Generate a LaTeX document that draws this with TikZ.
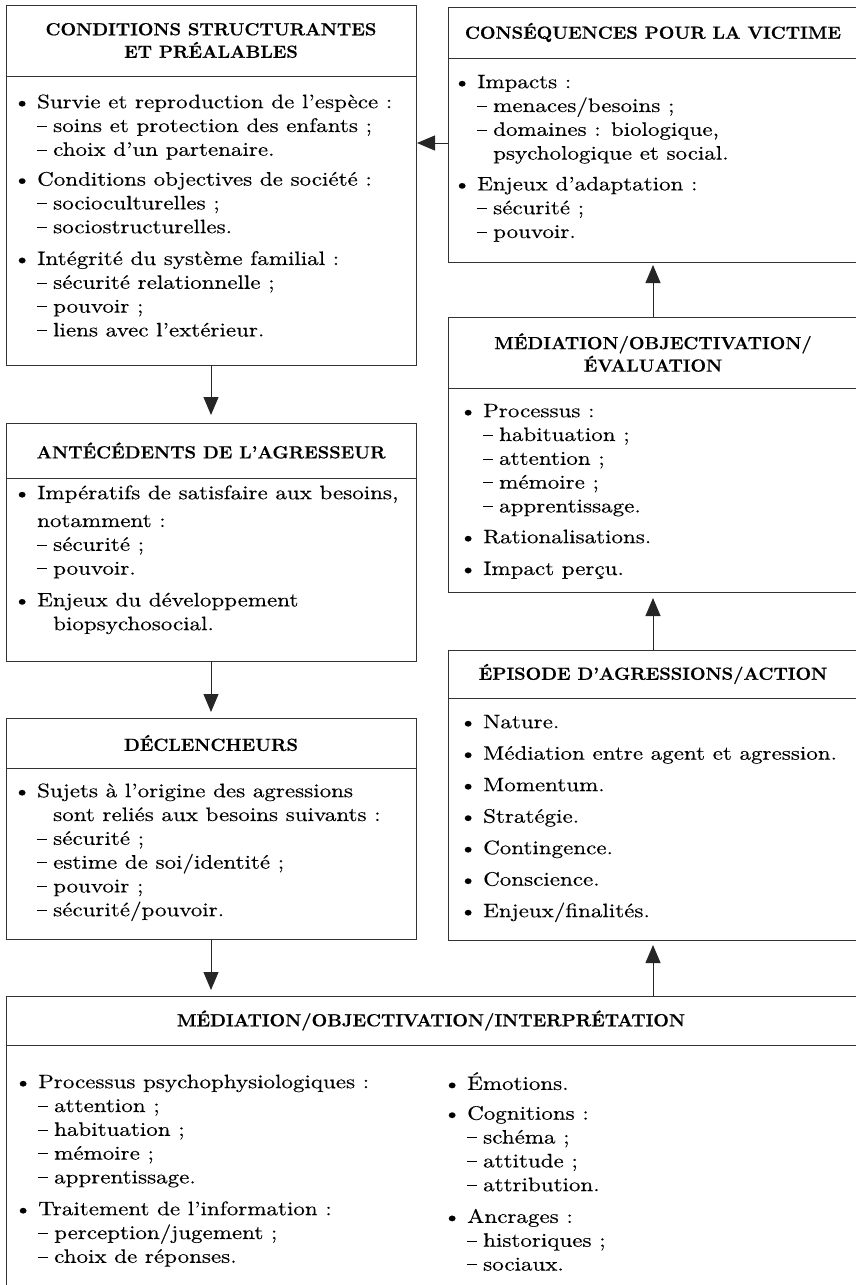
\documentclass[tikz,border=0pt]{standalone}
\usepackage{fontspec}
\setmainfont{lmroman10-regular.otf}[FakeStretch=1.18, FakeBold=0.3]
\newfontfamily\headfnt{lmroman12-bold.otf}[FakeStretch=1.05, FakeBold=0.7]
\usetikzlibrary{positioning,arrows.meta}

\tikzset{
  panel/.style={draw=black!80, line width=1pt, inner sep=0pt, outer sep=0pt, anchor=north west},
  headtxt/.style={font=\fontsize{17.5}{22.5}\selectfont\headfnt, align=center, text=black},
  bodytxt/.style={anchor=north west, inner sep=0pt, align=left, text=black,
    font=\fontsize{19.5}{23.8}\selectfont},
  flow/.style={line width=0.9pt, draw=black!85, -{Triangle[length=18pt,width=15pt]}},
}
\newcommand{\itm}{\makebox[15pt][l]{\kern-9pt\textbullet}}
\newcommand{\sub}{\hspace*{15pt}\makebox[16pt][l]{\rule[5.3pt]{9.5pt}{0.9pt}}}
\newcommand{\firstln}{\rule{0pt}{16pt}}

\begin{document}
\begin{tikzpicture}[x=1pt, y=-1pt]
  \useasboundingbox (0,0) rectangle (856,1285);
  \clip (0,0) rectangle (856,1285);

  % left column
  \node[panel, headtxt, minimum width=410pt, minimum height=71pt] (condH) at (6,5)
    {CONDITIONS STRUCTURANTES\\ET PRÉALABLES};
  \node[panel, below=0pt of condH, minimum width=410pt, minimum height=289pt] (condB) {};
  \node[bodytxt] (condT) at ([xshift=16pt, yshift=-16pt]condB.north west)
    {\firstln\itm Survie et reproduction de l’espèce :\\
     \sub soins et protection des enfants ;\\
     \sub choix d’un partenaire.\\[6pt]
     \itm Conditions objectives de société :\\
     \sub socioculturelles ;\\
     \sub sociostructurelles.\\[8pt]
     \itm Intégrité du système familial :\\
     \sub sécurité relationnelle ;\\
     \sub pouvoir ;\\
     \sub liens avec l’extérieur.};

  \node[panel, headtxt, minimum width=410pt, minimum height=55pt] (anteH) at (6,423)
    {ANTÉCÉDENTS DE L’AGRESSEUR};
  \node[panel, below=0pt of anteH, minimum width=410pt, minimum height=183pt] (anteB) {};
  \node[bodytxt] (anteT) at ([xshift=16pt, yshift=-5pt]anteB.north west)
    {\firstln\itm Impératifs de satisfaire aux besoins,\\[4pt]
     \hspace*{15pt}notamment :\\
     \sub sécurité ;\\
     \sub pouvoir.\\[8pt]
     \itm Enjeux du développement\\
     \hspace*{31pt}biopsychosocial.};

  \node[panel, headtxt, minimum width=410pt, minimum height=50pt] (declH) at (6,718)
    {DÉCLENCHEURS};
  \node[panel, below=0pt of declH, minimum width=410pt, minimum height=171pt] (declB) {};
  \node[bodytxt] (declT) at ([xshift=16pt, yshift=-13pt]declB.north west)
    {\firstln\itm Sujets à l’origine des agressions\\
     \hspace*{31pt}sont reliés aux besoins suivants :\\
     \sub sécurité ;\\
     \sub estime de soi/identité ;\\
     \sub pouvoir ;\\
     \sub sécurité/pouvoir.};

  % right column
  \node[panel, headtxt, minimum width=410pt, minimum height=51pt] (consH) at (448,7)
    {CONSÉQUENCES POUR LA VICTIME};
  \node[panel, below=0pt of consH, minimum width=410pt, minimum height=204pt] (consB) {};
  \node[bodytxt] (consT) at ([xshift=14pt, yshift=-14pt]consB.north west)
    {\firstln\itm Impacts :\\
     \sub menaces/besoins ;\\
     \sub domaines : biologique,\\
     \hspace*{31pt}psychologique et social.\\[7pt]
     \itm Enjeux d’adaptation :\\
     \sub sécurité ;\\
     \sub pouvoir.};

  \node[panel, headtxt, minimum width=410pt, minimum height=71pt] (mevalH) at (448,317)
    {MÉDIATION/OBJECTIVATION/\\ÉVALUATION};
  \node[panel, below=0pt of mevalH, minimum width=410pt, minimum height=204pt] (mevalB) {};
  \node[bodytxt] (mevalT) at ([xshift=20pt, yshift=-13pt]mevalB.north west)
    {\firstln\itm Processus :\\
     \sub habituation ;\\
     \sub attention ;\\
     \sub mémoire ;\\
     \sub apprentissage.\\[7pt]
     \itm Rationalisations.\\[8pt]
     \itm Impact perçu.};

  \node[panel, headtxt, minimum width=410pt, minimum height=48pt] (episH) at (448,650)
    {ÉPISODE D’AGRESSIONS/ACTION};
  \node[panel, below=0pt of episH, minimum width=410pt, minimum height=242pt] (episB) {};
  \node[bodytxt] (episT) at ([xshift=20pt, yshift=-14pt]episB.north west)
    {\firstln\itm Nature.\\[7.7pt]
     \itm Médiation entre agent et agression.\\[7.7pt]
     \itm Momentum.\\[7.7pt]
     \itm Stratégie.\\[7.7pt]
     \itm Contingence.\\[7.7pt]
     \itm Conscience.\\[7.7pt]
     \itm Enjeux/finalités.};

  % bottom
  \node[panel, headtxt, minimum width=900pt, minimum height=49pt] (interH) at (6,996)
    {\hspace*{-50pt}MÉDIATION/OBJECTIVATION/INTERPRÉTATION};
  \node[panel, below=0pt of interH, minimum width=900pt, minimum height=280pt] (interB) {};
  \node[bodytxt] (interL) at ([xshift=17pt, yshift=-27pt]interB.north west)
    {\firstln\itm Processus psychophysiologiques :\\
     \sub attention ;\\
     \sub habituation ;\\
     \sub mémoire ;\\
     \sub apprentissage.\\[8pt]
     \itm Traitement de l’information :\\
     \sub perception/jugement ;\\
     \sub choix de réponses.};
  \node[bodytxt] (interR) at ([xshift=446pt, yshift=-27pt]interB.north west)
    {\firstln\itm Émotions.\\[6pt]
     \itm Cognitions :\\
     \sub schéma ;\\
     \sub attitude ;\\
     \sub attribution.\\[8pt]
     \itm Ancrages :\\
     \sub historiques ;\\
     \sub sociaux.};

  % connectors
  \draw[flow, shorten >=8pt] (condB.south) -- (anteH.north);
  \draw[flow, shorten >=6pt] (anteB.south) -- (declH.north);
  \draw[flow, shorten >=6pt] (declB.south) -- (declB.south |- interH.north);
  \draw[flow, shorten >=5pt] (episB.south |- interH.north) -- (episB.south);
  \draw[flow, shorten >=6pt] (episH.north) -- (mevalB.south);
  \draw[flow, shorten >=3pt] (mevalH.north) -- (consB.south);
  \coordinate (tap) at ([yshift=17pt]consB.west);
  \draw[flow, shorten >=1pt] (tap) -- (tap -| condB.east);
\end{tikzpicture}
\end{document}
